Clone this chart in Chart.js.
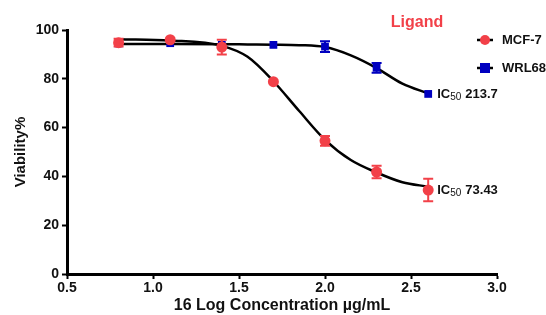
<!DOCTYPE html>
<html>
<head>
<meta charset="utf-8">
<script src="https://cdn.jsdelivr.net/npm/chart.js@4/dist/chart.umd.min.js"></script>
<style>
  html, body { margin: 0; padding: 0; background: #fff; }
  canvas { display: block; }
</style>
</head>
<body>
<canvas id="chart-ic50" width="546" height="315"></canvas>
<script>
// log concentration (x) and viability % values
const logConc = [0.8, 1.1, 1.4, 1.7, 2.0, 2.3, 2.6];
const mcf7 = [94.8, 96.0, 93.0, 78.8, 54.6, 41.8, 34.4];
const mcf7Err = [1.6, 0.8, 3.0, 0.6, 2.0, 2.6, 4.6];
const wrl68 = [94.5, 94.6, 93.9, 93.9, 93.2, 84.5, 73.8];
const wrl68Err = [0.8, 1.2, 0.6, 0.6, 2.2, 2.0, 0.8];
// fitted curves
const fitConc = [0.8, 1.1, 1.4, 1.55, 1.7, 1.85, 2.0, 2.15, 2.3, 2.45, 2.6];
const mcf7Fit = [96.2, 95.7, 93.5, 89.0, 79.0, 66.8, 55.0, 46.7, 41.6, 37.6, 35.8];
const wrl68Fit = [94.3, 94.3, 94.2, 94.1, 94.0, 93.8, 93.0, 89.6, 84.4, 78.0, 74.0];
const ic50Labels = ['73.43', '213.7'];
const xTicks = [0.5, 1.0, 1.5, 2.0, 2.5, 3.0];
const yTicks = [0, 20, 40, 60, 80, 100];

const RED = 'rgb(242,64,72)';
const BLUE = 'rgb(0,0,192)';
const FONT = "'Liberation Sans', Arial, sans-serif";

function pts(xs, ys) {
    return xs.map((x, i) => ({x: x, y: ys[i]}));
}

// error bars + IC50 labels + legend + panel title
const extras = {
    id: 'extras',
    afterDatasetsDraw(chart) {
        const ctx = chart.ctx;
        const xs = chart.scales.x, ys = chart.scales.y;
        const bars = [[mcf7, mcf7Err, RED], [wrl68, wrl68Err, BLUE]];
        ctx.save();
        bars.forEach(([vals, errs, col]) => {
            ctx.strokeStyle = col;
            ctx.lineWidth = 2;
            vals.forEach((v, i) => {
                if (errs[i] < 1.5) return;
                const px = xs.getPixelForValue(logConc[i]);
                const top = ys.getPixelForValue(v + errs[i]);
                const bot = ys.getPixelForValue(v - errs[i]);
                ctx.beginPath();
                ctx.moveTo(px, top); ctx.lineTo(px, bot);
                ctx.moveTo(px - 5, top); ctx.lineTo(px + 5, top);
                ctx.moveTo(px - 5, bot); ctx.lineTo(px + 5, bot);
                ctx.stroke();
            });
        });

        // IC50 labels next to the last points
        const last = logConc.length - 1;
        [[mcf7[last], ic50Labels[0]], [wrl68[last], ic50Labels[1]]].forEach(([v, txt]) => {
            let x = xs.getPixelForValue(logConc[last]) + 9;
            const y = ys.getPixelForValue(v);
            ctx.fillStyle = '#111';
            ctx.textBaseline = 'middle';
            ctx.textAlign = 'left';
            ctx.font = 'bold 13px ' + FONT;
            ctx.fillText('IC', x, y);
            x += ctx.measureText('IC').width;
            ctx.font = '10px ' + FONT;
            ctx.fillText('50', x, y + 3);
            x += ctx.measureText('50').width + 4;
            ctx.font = 'bold 13px ' + FONT;
            ctx.fillText(txt, x, y);
        });

        // title
        ctx.fillStyle = RED;
        ctx.font = 'bold 16px ' + FONT;
        ctx.textAlign = 'center';
        ctx.fillText('Ligand', 417, 23);

        // legend
        const items = [['MCF-7', RED, 'circle', 40], ['WRL68', BLUE, 'rect', 68]];
        items.forEach(([label, col, shape, y]) => {
            ctx.strokeStyle = '#000';
            ctx.lineWidth = 2.5;
            ctx.beginPath();
            ctx.moveTo(477, y); ctx.lineTo(493, y);
            ctx.stroke();
            ctx.fillStyle = col;
            if (shape === 'circle') {
                ctx.beginPath();
                ctx.arc(485, y, 5, 0, Math.PI * 2);
                ctx.fill();
            } else {
                ctx.fillRect(480, y - 5, 10, 10);
            }
            ctx.fillStyle = '#111';
            ctx.font = 'bold 13px ' + FONT;
            ctx.textAlign = 'left';
            ctx.fillText(label, 502, y);
        });
        ctx.restore();
    }
};

const ctx = document.getElementById('chart-ic50');
new Chart(ctx, {
    type: 'line',
    data: {
        datasets: [
            {
                label: 'WRL68 fit',
                data: pts(fitConc, wrl68Fit),
                borderColor: '#000',
                borderWidth: 2.5,
                pointRadius: 0,
                cubicInterpolationMode: 'monotone',
                order: 4
            },
            {
                label: 'MCF-7 fit',
                data: pts(fitConc, mcf7Fit),
                borderColor: '#000',
                borderWidth: 2.5,
                pointRadius: 0,
                cubicInterpolationMode: 'monotone',
                order: 3
            },
            {
                label: 'WRL68',
                data: pts(logConc, wrl68),
                showLine: false,
                pointStyle: 'rect',
                pointRadius: 5.5,
                pointBackgroundColor: BLUE,
                pointBorderColor: BLUE,
                pointBorderWidth: 0,
                order: 2
            },
            {
                label: 'MCF-7',
                data: pts(logConc, mcf7),
                showLine: false,
                pointStyle: 'circle',
                pointRadius: 5.5,
                pointBackgroundColor: RED,
                pointBorderColor: RED,
                pointBorderWidth: 0,
                order: 1
            }
        ]
    },
    options: {
        responsive: false,
        animation: false,
        layout: { padding: { top: 30, right: 49, left: 0, bottom: 0 } },
        plugins: {
            legend: { display: false },
            tooltip: { enabled: false }
        },
        scales: {
            x: {
                type: 'linear',
                min: 0.5,
                max: 3.0,
                afterFit: (s) => { s.height = 41; },
                afterBuildTicks: (s) => { s.ticks = xTicks.map(v => ({value: v})); },
                grid: { drawOnChartArea: false, drawTicks: true, tickLength: 5, tickWidth: 2, tickColor: '#000' },
                border: { display: true, color: '#000', width: 3 },
                ticks: {
                    color: '#111',
                    padding: 1,
                    font: { family: FONT, size: 14, weight: 'bold' },
                    callback: (v) => Number(v).toFixed(1)
                },
                title: {
                    display: true,
                    text: '16 Log Concentration µg/mL',
                    color: '#111',
                    font: { family: FONT, size: 16, weight: 'bold' },
                    padding: { top: 0, bottom: 0 }
                }
            },
            y: {
                min: 0,
                max: 100,
                afterFit: (s) => { s.width = 67; },
                afterBuildTicks: (s) => { s.ticks = yTicks.map(v => ({value: v})); },
                grid: { drawOnChartArea: false, drawTicks: true, tickLength: 5, tickWidth: 2, tickColor: '#000' },
                border: { display: true, color: '#000', width: 3 },
                ticks: {
                    color: '#111',
                    padding: 3,
                    font: { family: FONT, size: 14, weight: 'bold' }
                },
                title: {
                    display: true,
                    text: 'Viability%',
                    color: '#111',
                    font: { family: FONT, size: 15, weight: 'bold' },
                    padding: { top: 12, bottom: 0 }
                }
            }
        }
    },
    plugins: [extras]
});
</script>
</body>
</html>
